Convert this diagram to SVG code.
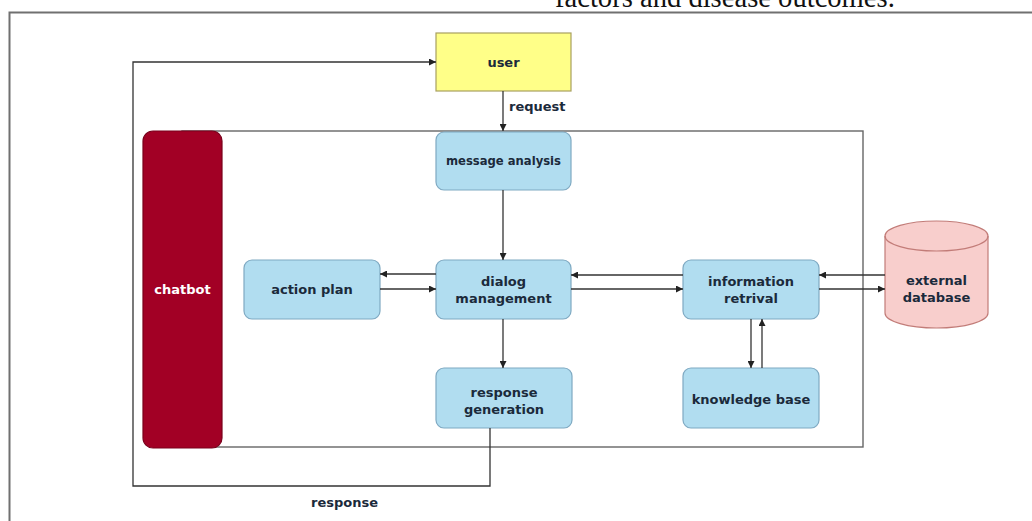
<svg xmlns="http://www.w3.org/2000/svg" width="1032" height="521" viewBox="0 0 1032 521">
<defs>
<marker id="ah" viewBox="0 0 10 10" refX="10" refY="5" markerWidth="7" markerHeight="7" markerUnits="userSpaceOnUse" orient="auto">
<path d="M0,0 L10,5 L0,10 z" fill="#222"/>
</marker>
<style>
.lbl{font-family:"DejaVu Sans",Verdana,sans-serif;font-weight:bold;font-size:13px;fill:#1b2a3b;text-anchor:middle;dominant-baseline:central}
.blue{fill:#b1ddf0;stroke:#7fa9c2;stroke-width:1.2}
.edge{fill:none;stroke:#333;stroke-width:1.3}
.arr{marker-end:url(#ah)}
.frame{fill:none;stroke:#707070;stroke-width:2}
.cont{fill:none;stroke:#666;stroke-width:1.4}
</style>
</defs>
<rect width="1032" height="521" fill="#fff"/>
<text x="555" y="7" font-family="'Liberation Serif',serif" font-size="28.6" fill="#111">factors and disease outcomes.</text>
<rect class="frame" x="9.5" y="12.5" width="1040" height="530"/>
<rect class="cont" x="182" y="131" width="681" height="316"/>
<g id="chatbot">
<rect x="143" y="131" width="79" height="317" rx="10" fill="#a20025" stroke="#7a001c" stroke-width="1.2"/>
<text class="lbl" x="182.5" y="289" style="fill:#fff">chatbot</text>
</g>
<g id="user">
<rect x="436" y="33" width="135" height="58" fill="#ffff88" stroke="#a8a060" stroke-width="1.2"/>
<text class="lbl" x="503.5" y="62">user</text>
</g>
<g id="message-analysis">
<rect class="blue" x="436" y="132" width="135" height="58" rx="8"/>
<text class="lbl" x="503.5" y="161" style="font-size:11.6px">message analysis</text>
</g>
<g id="action-plan">
<rect class="blue" x="244" y="260" width="136" height="59" rx="8"/>
<text class="lbl" x="312" y="289.5">action plan</text>
</g>
<g id="dialog-management">
<rect class="blue" x="436" y="260" width="135" height="59" rx="8"/>
<text class="lbl" x="503.5" y="281">dialog</text>
<text class="lbl" x="503.5" y="298">management</text>
</g>
<g id="response-generation">
<rect class="blue" x="436" y="368" width="136" height="60" rx="8"/>
<text class="lbl" x="504" y="392">response</text>
<text class="lbl" x="504" y="409">generation</text>
</g>
<g id="information-retrival">
<rect class="blue" x="683" y="260" width="136" height="59" rx="8"/>
<text class="lbl" x="751" y="281">information</text>
<text class="lbl" x="751" y="298">retrival</text>
</g>
<g id="knowledge-base">
<rect class="blue" x="683" y="368" width="136" height="60" rx="8"/>
<text class="lbl" x="751" y="399">knowledge base</text>
</g>
<g id="external-database">
<path d="M885,236 A51.5,15 0 0 1 988,236 V313 A51.5,15 0 0 1 885,313 Z" fill="#f8cecc" stroke="#c27c78" stroke-width="1.2"/>
<path d="M885,236 A51.5,15 0 0 0 988,236" fill="none" stroke="#c27c78" stroke-width="1.2"/>
<text class="lbl" x="936.5" y="280">external</text>
<text class="lbl" x="936.5" y="297">database</text>
</g>
<g id="connectors">
<path class="edge arr" d="M503,91 V131"/>
<text class="lbl" x="509" y="106" style="text-anchor:start">request</text>
<path class="edge arr" d="M503,190 V260"/>
<path class="edge arr" d="M503,319 V368"/>
<path class="edge arr" d="M436,274 H380"/>
<path class="edge arr" d="M380,289 H436"/>
<path class="edge arr" d="M683,275 H571"/>
<path class="edge arr" d="M571,289 H683"/>
<path class="edge arr" d="M885,275 H819"/>
<path class="edge arr" d="M819,289 H885"/>
<path class="edge arr" d="M751,319 V368"/>
<path class="edge arr" d="M762,368 V319"/>
<path class="edge arr" d="M490,428 V486 H133 V62 H436"/>
<text class="lbl" x="311" y="502" style="text-anchor:start">response</text>
</g>
</svg>
